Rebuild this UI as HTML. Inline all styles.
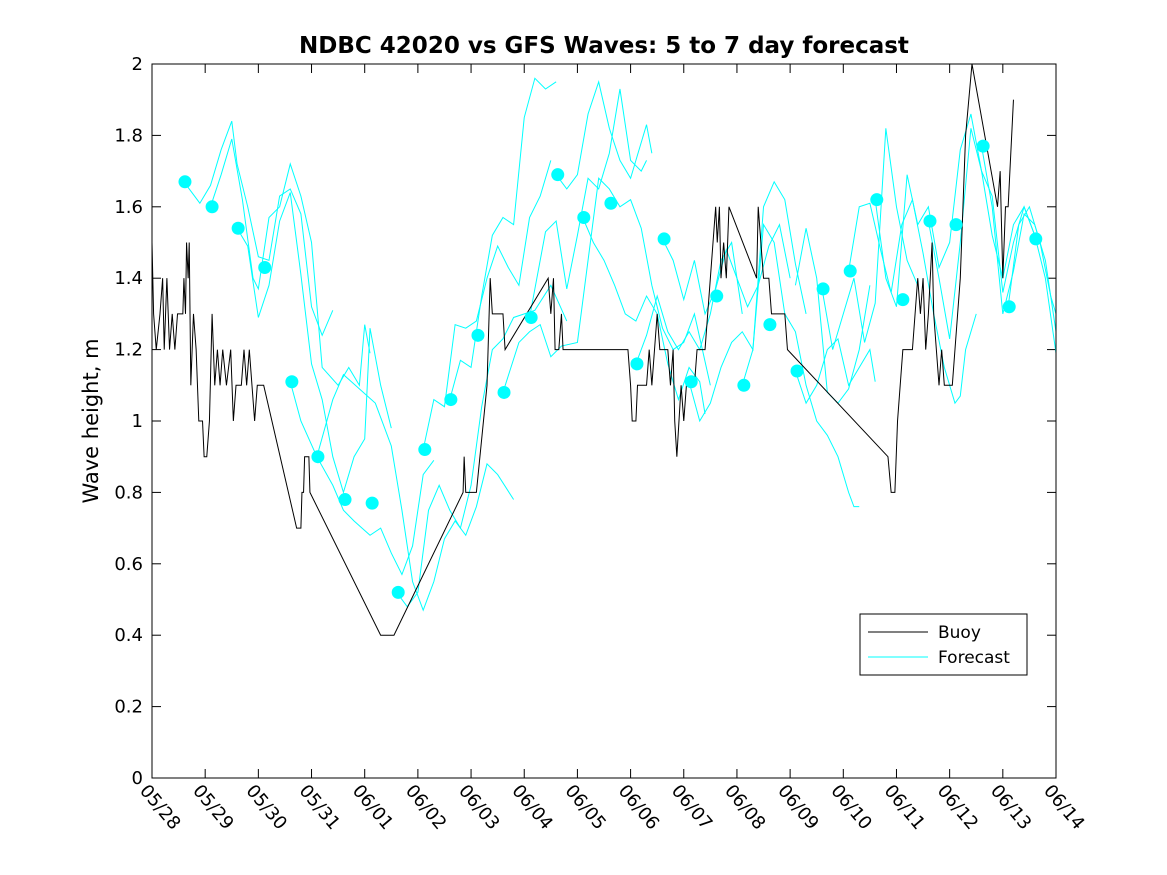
<!DOCTYPE html>
<html><head><meta charset="utf-8"><style>
body{margin:0;background:#fff;}
svg{display:block;font-family:"DejaVu Sans","Liberation Sans",sans-serif;}
</style></head><body>
<svg id="chart" width="1167" height="875" viewBox="0 0 1167 875" xmlns="http://www.w3.org/2000/svg">
<rect width="1167" height="875" fill="#fff"/>
<text x="604" y="53" text-anchor="middle" font-size="23" font-weight="bold">NDBC 42020 vs GFS Waves: 5 to 7 day forecast</text>
<text transform="translate(98,421) rotate(-90)" text-anchor="middle" font-size="21">Wave height, m</text>
<g id="ticks"></g>
<g id="series"></g>
<rect x="152" y="64" width="904" height="714" fill="none" stroke="#000" stroke-width="1"/>
<g>
<rect x="860" y="614" width="167" height="61" fill="#fff" stroke="#000"/>
<line x1="868" y1="632" x2="928" y2="632" stroke="#000"/>
<text x="938" y="638" font-size="17">Buoy</text>
<line x1="868" y1="657" x2="928" y2="657" stroke="#0ff"/>
<text x="938" y="663" font-size="17">Forecast</text>
</g>
</svg>
<script>
const xLabels=["05/28","05/29","05/30","05/31","06/01","06/02","06/03","06/04","06/05","06/06","06/07","06/08","06/09","06/10","06/11","06/12","06/13","06/14"];
const yTicks=[0,0.2,0.4,0.6,0.8,1,1.2,1.4,1.6,1.8,2];
const dotDays=[0.62,1.13,1.62,2.12,2.63,3.12,3.63,4.14,4.63,5.13,5.62,6.13,6.62,7.13,7.63,8.12,8.63,9.12,9.63,10.14,10.62,11.13,11.62,12.13,12.62,13.13,13.63,14.12,14.63,15.12,15.63,16.12,16.62];
const dotValues=[1.67,1.60,1.54,1.43,1.11,0.90,0.78,0.77,0.52,0.92,1.06,1.24,1.08,1.29,1.69,1.57,1.61,1.16,1.51,1.11,1.35,1.10,1.27,1.14,1.37,1.42,1.62,1.34,1.56,1.55,1.77,1.32,1.51];
const buoy=[[0,1.5],[0.03,1.3],[0.08,1.2],[0.15,1.3],[0.2,1.4],[0.23,1.2],[0.28,1.4],[0.33,1.2],[0.38,1.3],[0.43,1.2],[0.48,1.3],[0.58,1.3],[0.6,1.4],[0.63,1.3],[0.65,1.5],[0.68,1.4],[0.7,1.5],[0.73,1.1],[0.78,1.3],[0.83,1.2],[0.88,1.0],[0.95,1.0],[0.98,0.9],[1.03,0.9],[1.08,1.0],[1.13,1.3],[1.18,1.1],[1.23,1.2],[1.28,1.1],[1.33,1.2],[1.4,1.1],[1.48,1.2],[1.53,1.0],[1.58,1.1],[1.68,1.1],[1.73,1.2],[1.78,1.1],[1.83,1.2],[1.88,1.1],[1.93,1.0],[1.98,1.1],[2.1,1.1],[2.72,0.7],[2.8,0.7],[2.82,0.8],[2.85,0.8],[2.87,0.9],[2.95,0.9],[2.97,0.8],[4.3,0.4],[4.55,0.4],[5.85,0.8],[5.87,0.9],[5.9,0.8],[6.1,0.8],[6.3,1.1],[6.36,1.4],[6.4,1.3],[6.6,1.3],[6.64,1.2],[7.45,1.4],[7.5,1.3],[7.55,1.4],[7.58,1.2],[7.65,1.2],[7.7,1.3],[7.73,1.2],[8.95,1.2],[9.0,1.1],[9.03,1.0],[9.1,1.0],[9.13,1.1],[9.3,1.1],[9.35,1.2],[9.4,1.1],[9.45,1.2],[9.5,1.3],[9.55,1.2],[9.7,1.2],[9.75,1.1],[9.8,1.2],[9.83,1.0],[9.87,0.9],[9.95,1.1],[10.0,1.0],[10.05,1.1],[10.2,1.1],[10.25,1.2],[10.4,1.2],[10.45,1.3],[10.5,1.4],[10.55,1.5],[10.6,1.6],[10.63,1.5],[10.67,1.6],[10.7,1.4],[10.75,1.5],[10.8,1.4],[10.85,1.6],[11.37,1.4],[11.4,1.6],[11.45,1.5],[11.5,1.4],[11.6,1.4],[11.65,1.3],[11.9,1.3],[11.95,1.2],[13.84,0.9],[13.9,0.8],[13.97,0.8],[14.02,1.0],[14.07,1.1],[14.12,1.2],[14.3,1.2],[14.35,1.3],[14.4,1.4],[14.45,1.3],[14.5,1.4],[14.55,1.2],[14.6,1.3],[14.67,1.5],[14.7,1.3],[14.75,1.2],[14.8,1.1],[14.85,1.2],[14.9,1.1],[15.05,1.1],[15.1,1.2],[15.2,1.4],[15.25,1.6],[15.3,1.8],[15.42,2.0],[15.9,1.6],[15.95,1.7],[16.0,1.4],[16.05,1.6],[16.1,1.6],[16.2,1.9]];
const forecasts=[
[[0.6,1.67],[0.9,1.61],[1.1,1.66],[1.3,1.76],[1.5,1.84],[1.6,1.72],[1.8,1.6],[2.0,1.46],[2.2,1.45],[2.4,1.63],[2.6,1.65],[2.8,1.58],[3.0,1.32],[3.2,1.24],[3.4,1.31]],
[[1.1,1.60],[1.3,1.69],[1.5,1.79],[1.7,1.62],[1.9,1.4],[2.0,1.37],[2.2,1.57],[2.4,1.6],[2.6,1.72],[2.8,1.63],[3.0,1.5],[3.2,1.15],[3.5,1.1],[3.7,1.15],[3.9,1.1],[4.0,1.27],[4.1,1.19]],
[[1.6,1.54],[1.8,1.49],[2.0,1.29],[2.2,1.38],[2.4,1.56],[2.6,1.64],[2.8,1.41],[3.0,1.16],[3.2,1.06],[3.4,0.9],[3.6,0.8],[3.8,0.9],[4.0,0.95],[4.1,1.26],[4.3,1.1],[4.5,0.98]],
[[2.6,1.11],[2.8,1.0],[3.1,0.9],[3.4,0.82],[3.6,0.75],[3.8,0.72],[4.1,0.68],[4.3,0.7],[4.5,0.63],[4.7,0.57],[4.9,0.65],[5.1,0.85],[5.3,0.89]],
[[3.1,0.90],[3.4,1.06],[3.6,1.13],[3.9,1.09],[4.2,1.05],[4.5,0.93],[4.7,0.75],[4.9,0.55],[5.1,0.47],[5.3,0.55],[5.5,0.67],[5.7,0.72],[5.9,0.68],[6.1,0.76],[6.3,0.88],[6.5,0.85],[6.8,0.78]],
[[4.6,0.52],[4.8,0.48],[5.0,0.52],[5.2,0.75],[5.4,0.82],[5.6,0.75],[5.8,0.70],[6.0,0.82],[6.2,1.04],[6.4,1.2],[6.6,1.23],[6.8,1.29],[7.2,1.31],[7.5,1.38],[7.8,1.28]],
[[5.1,0.92],[5.3,1.06],[5.5,1.04],[5.7,1.27],[5.9,1.26],[6.1,1.28],[6.3,1.4],[6.5,1.49],[6.7,1.43],[6.9,1.38],[7.1,1.57],[7.3,1.63],[7.5,1.73]],
[[5.6,1.06],[5.8,1.17],[6.0,1.15],[6.2,1.35],[6.4,1.52],[6.6,1.57],[6.8,1.55],[7.0,1.85],[7.2,1.96],[7.4,1.93],[7.6,1.95]],
[[6.6,1.08],[6.9,1.22],[7.1,1.25],[7.3,1.27],[7.5,1.18],[7.7,1.21],[8.0,1.22],[8.2,1.45],[8.4,1.68],[8.6,1.65],[8.8,1.60],[9.0,1.62],[9.2,1.54],[9.4,1.38],[9.6,1.26],[9.8,1.2],[10.0,1.22],[10.2,1.3],[10.5,1.1]],
[[7.1,1.29],[7.4,1.53],[7.6,1.56],[7.8,1.37],[8.0,1.52],[8.2,1.68],[8.4,1.65],[8.6,1.75],[8.8,1.93],[9.0,1.73],[9.2,1.7],[9.3,1.73]],
[[7.6,1.69],[7.8,1.65],[8.0,1.69],[8.2,1.86],[8.4,1.95],[8.6,1.82],[8.8,1.73],[9.0,1.68],[9.2,1.78],[9.3,1.83],[9.4,1.75]],
[[8.1,1.57],[8.3,1.5],[8.5,1.45],[8.7,1.38],[8.9,1.3],[9.1,1.28],[9.3,1.35],[9.5,1.3],[9.7,1.16],[9.9,1.06],[10.1,1.15],[10.3,1.11],[10.4,1.02]],
[[9.1,1.16],[9.3,1.24],[9.5,1.35],[9.7,1.25],[9.9,1.2],[10.1,1.25],[10.3,1.2],[10.5,1.3],[10.7,1.45],[10.9,1.5],[11.1,1.3]],
[[9.6,1.51],[9.8,1.45],[10.0,1.34],[10.2,1.45],[10.4,1.3],[10.6,1.37],[10.8,1.48],[11.0,1.4],[11.2,1.32],[11.4,1.38],[11.6,1.49],[11.8,1.55],[12.0,1.4]],
[[10.1,1.11],[10.3,1.0],[10.5,1.05],[10.7,1.15],[10.9,1.22],[11.1,1.25],[11.3,1.2],[11.5,1.6],[11.7,1.67],[11.9,1.62],[12.1,1.44],[12.3,1.3]],
[[11.1,1.1],[11.3,1.2],[11.5,1.55],[11.7,1.5],[11.9,1.3],[12.1,1.25],[12.3,1.1],[12.5,1.0],[12.7,0.96],[12.9,0.9],[13.1,0.8],[13.2,0.76],[13.3,0.76]],
[[12.1,1.14],[12.3,1.05],[12.5,1.1],[12.7,1.2],[12.9,1.23],[13.1,1.1],[13.3,1.15],[13.5,1.2],[13.6,1.11]],
[[12.6,1.37],[12.8,1.2],[13.0,1.3],[13.2,1.4],[13.4,1.22],[13.6,1.33],[13.8,1.82],[14.0,1.6],[14.2,1.45],[14.4,1.38]],
[[12.1,1.38],[12.3,1.54],[12.5,1.4],[12.7,1.08],[12.9,1.05],[13.1,1.09],[13.3,1.2],[13.5,1.38]],
[[13.1,1.42],[13.3,1.6],[13.5,1.61],[13.7,1.48],[13.9,1.36],[14.1,1.55],[14.3,1.62],[14.5,1.47],[14.7,1.3],[14.9,1.15],[15.1,1.05],[15.2,1.07],[15.3,1.2],[15.5,1.3]],
[[13.6,1.62],[13.8,1.4],[14.0,1.32],[14.2,1.69],[14.4,1.55],[14.6,1.6],[14.8,1.43],[15.0,1.5],[15.2,1.76],[15.4,1.86],[15.6,1.7],[15.8,1.52],[16.0,1.4],[16.2,1.55],[16.4,1.6],[16.6,1.52]],
[[14.6,1.56],[14.8,1.4],[15.0,1.23],[15.2,1.5],[15.4,1.82],[15.6,1.7],[15.8,1.63],[16.0,1.36],[16.2,1.5],[16.4,1.6],[16.6,1.52],[16.8,1.4],[17.0,1.19]],
[[15.6,1.77],[15.8,1.6],[16.0,1.3],[16.2,1.42],[16.4,1.58],[16.6,1.55],[16.8,1.45],[17.0,1.25]],
[[16.1,1.32],[16.3,1.55],[16.5,1.6],[16.7,1.5],[16.9,1.35],[17.0,1.3]]
];
const NS="http://www.w3.org/2000/svg";
const X0=152,X1=1056,Y0=778,Y1=64,DAYS=17,YMAX=2;
function xs(d){return X0+(X1-X0)*d/DAYS;}
function ys(v){return Y0-(Y0-Y1)*v/YMAX;}
function mk(tag,attrs,parent){const e=document.createElementNS(NS,tag);for(const k in attrs)e.setAttribute(k,attrs[k]);parent.appendChild(e);return e;}
const tg=document.getElementById('ticks'),sg=document.getElementById('series');
xLabels.forEach((lab,i)=>{const x=xs(i);
 const t=mk('line',{x1:x,y1:Y0,x2:x,y2:Y0-9,stroke:'#000'},tg);
 
 
 mk('line',{x1:x,y1:Y1,x2:x,y2:Y1+9,stroke:'#000'},tg);
 const tx=mk('text',{x:0,y:0,'font-size':18,transform:`translate(${x-13},${Y0+13}) rotate(50)`},tg);
 tx.textContent=lab;
 
 
});
yTicks.forEach(v=>{const y=ys(v);
 mk('line',{x1:X0,y1:y,x2:X0+9,y2:y,stroke:'#000'},tg);
 mk('line',{x1:X1,y1:y,x2:X1-9,y2:y,stroke:'#000'},tg);
 const tx=mk('text',{x:X0-9,y:y+6,'font-size':18,'text-anchor':'end'},tg);
 tx.textContent=String(v);
 
 
});
forecasts.forEach(seg=>{
 const p=mk('polyline',{points:seg.map(q=>xs(q[0])+','+ys(q[1])).join(' '),fill:'none',stroke:'#0ff','stroke-width':1},sg);
 
 
});
const b=mk('polyline',{points:buoy.map(q=>xs(q[0])+','+ys(q[1])).join(' '),fill:'none',stroke:'#000','stroke-width':1},sg);


dotDays.forEach((d,i)=>{
 const c=mk('circle',{cx:xs(d),cy:ys(dotValues[i]),r:6.5,fill:'#0ff'},sg);
 
 
});
</script>
</body></html>
